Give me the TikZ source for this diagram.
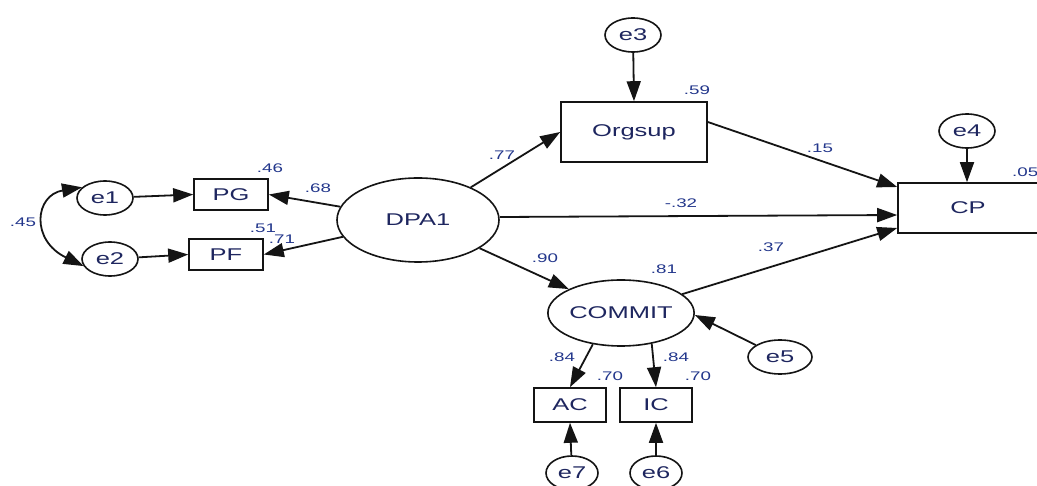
\documentclass[tikz,border=0pt]{standalone}
\usepackage{fontspec}
\setmainfont{Liberation Sans}[FakeStretch=1.5]
\usetikzlibrary{arrows.meta,calc,shapes.geometric}
\definecolor{txt}{RGB}{30,38,95}
\definecolor{lab}{RGB}{35,55,140}
\definecolor{ink}{RGB}{20,20,20}
\begin{document}
\begin{tikzpicture}[x=1pt,y=-1pt,
  >={Triangle[length=20pt,width=14pt]},
  conn/.style={->,line width=1.8pt,draw=ink},
  obs/.style={draw=ink,line width=1.6pt,rectangle,inner sep=0pt,fill=white,
    font=\fontsize{17}{20}\selectfont,text=txt},
  lat/.style={draw=ink,line width=1.6pt,ellipse,inner sep=0pt,fill=white,
    font=\fontsize{17}{20}\selectfont,text=txt},
  err/.style={lat,minimum width=56pt,minimum height=34pt},
  num/.style={font=\fontsize{12.5}{14}\selectfont,text=lab,inner sep=0pt}]
\useasboundingbox (0,0) rectangle (1037,486);
\clip (0,0) rectangle (1037,486);
\fill[white] (0,0) rectangle (1037,486);

% nodes
\node[obs,minimum width=74pt,minimum height=31pt] (pg) at (231,194.5) {PG};
\node[obs,minimum width=74pt,minimum height=31pt] (pf) at (226,254.5) {PF};
\node[obs,minimum width=146pt,minimum height=60pt] (org) at (634,132) {Orgsup};
\node[obs,minimum width=140pt,minimum height=50pt] (cp) at (968,208) {CP};
\node[obs,minimum width=72pt,minimum height=34pt] (ac) at (570,405) {AC};
\node[obs,minimum width=72pt,minimum height=34pt] (ic) at (656,405) {IC};
\node[lat,minimum width=162pt,minimum height=84pt] (dpa) at (418,220) {DPA1};
\node[lat,minimum width=146pt,minimum height=66pt] (com) at (621,313) {COMMIT};
\node[err] (e1) at (105,198) {e1};
\node[err] (e2) at (110,259) {e2};
\node[err] (e3) at (633,35) {e3};
\node[err] (e4) at (967,131) {e4};
\node[err,minimum width=64pt] (e5) at (780,357) {e5};
\node[err,minimum width=52pt] (e7) at (572,473) {e7};
\node[err,minimum width=52pt] (e6) at (656,473) {e6};

% connectors
\draw[conn] (e1) -- (pg.west);
\draw[conn] (e2) -- (pf.west);
\draw[conn] (dpa) -- (pg.east);
\draw[conn] (dpa) -- (pf.east);
\draw[conn] (dpa) -- (org.west);
\draw[conn] ($(dpa.east)+(0,-3)$) -- ($(cp.west)+(0,7)$);
\draw[conn] (dpa) -- (com);
\draw[conn] ($(org.east)+(0,-10)$) -- ($(cp.west)+(0,-21)$);
\draw[conn] (com) -- ($(cp.west)+(0,20)$);
\draw[conn] (e3) -- (org.north);
\draw[conn] (e4) -- (e4 |- cp.north);
\draw[conn] (e5) -- ($(com.east)+(0,2)$);
\draw[conn] (com.228) -- (ac.north);
\draw[conn] (com.315) -- (ic.north);
\draw[conn] (e7) -- (ac.south);
\draw[conn] (e6) -- (ic.south);
\draw[<->,line width=1.8pt,draw=ink] (e1.155) .. controls (35,195) and (30,240) .. (e2.195);

% labels
\node[num] (l45) at (23,222) {.45};
\node[num] (l46) at (270,168) {.46};
\node[num] (l68) at (318,188) {.68};
\node[num] (l51) at (263,228) {.51};
\node[num] (l71) at (282,239) {.71};
\node[num] (l77) at (502,155) {.77};
\node[num] (l59) at (697,90) {.59};
\node[num] (l15) at (820,148) {.15};
\node[num] (l32) at (681,203) {-.32};
\node[num,anchor=west] (l05) at (1012,172) {.05};
\node[num] (l90) at (545,258) {.90};
\node[num] (l81) at (664,269) {.81};
\node[num] (l37) at (771,247) {.37};
\node[num] (l84a) at (562,357) {.84};
\node[num] (l70a) at (610,376) {.70};
\node[num] (l84b) at (676,357) {.84};
\node[num] (l70b) at (698,376) {.70};
\end{tikzpicture}
\end{document}
